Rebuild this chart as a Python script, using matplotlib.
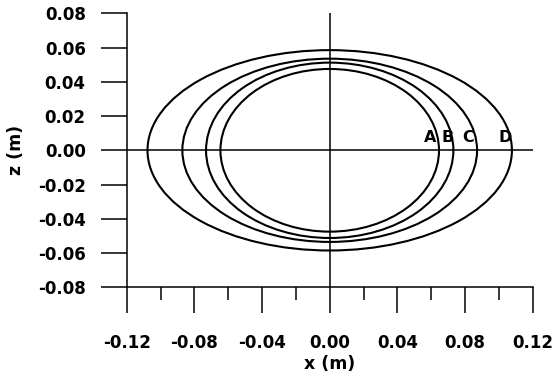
import numpy as np
import matplotlib
matplotlib.use("Agg")
import matplotlib.pyplot as plt
from matplotlib.patches import Ellipse
from matplotlib.ticker import MultipleLocator

# contours A..D: half widths along x and half heights along z (m)
names = ["A", "B", "C", "D"]
half_x = [0.0646, 0.0731, 0.0871, 0.1077]
half_z = [0.0475, 0.0512, 0.0535, 0.0585]
# label positions
label_x = [0.0593, 0.0697, 0.0818, 0.1035]
label_z = [0.003, 0.003, 0.003, 0.003]

x_ticks = [-0.12, -0.08, -0.04, 0.00, 0.04, 0.08, 0.12]
z_ticks = [-0.08, -0.06, -0.04, -0.02, 0.00, 0.02, 0.04, 0.06, 0.08]

plt.rcParams['font.family'] = ['DejaVu Sans']

fig = plt.figure(figsize=(5.54, 3.76), dpi=100)
ax = fig.add_axes([0.2287, 0.2359, 0.7329, 0.7287])

for a, b in zip(half_x, half_z):
    ax.add_patch(Ellipse((0, 0), 2 * a, 2 * b, fill=False, ec='black', lw=1.5))

for n, lx, lz in zip(names, label_x, label_z):
    ax.text(lx, lz, n, ha='center', va='bottom', fontsize=11.5, fontweight='bold')

# cross through the origin
ax.axhline(0, color='black', lw=1.1)
ax.axvline(0, color='black', lw=1.1)

ax.set_xlim(-0.12, 0.12)
ax.set_ylim(-0.08, 0.08)
ax.set_xticks(x_ticks)
ax.set_yticks(z_ticks)
ax.xaxis.set_minor_locator(MultipleLocator(0.02))
ax.set_xticklabels(["%.2f" % v for v in x_ticks], fontsize=12, fontweight='bold')
ax.set_yticklabels(["%.2f" % v for v in z_ticks], fontsize=12, fontweight='bold')

for s in ['top', 'right']:
    ax.spines[s].set_visible(False)
for s in ['left', 'bottom']:
    ax.spines[s].set_linewidth(1.1)

ax.tick_params(axis='both', which='major', direction='out', length=18.5, width=1.1, pad=11)
ax.tick_params(axis='x', which='minor', direction='out', length=9.3, width=1.1)
ax.tick_params(axis='x', which='major', pad=15)

ax.set_xlabel("x (m)", fontsize=12.5, fontweight='bold', labelpad=2)
ax.set_ylabel("z (m)", fontsize=12.5, fontweight='bold', labelpad=9)

fig.savefig("out.png", dpi=100)
